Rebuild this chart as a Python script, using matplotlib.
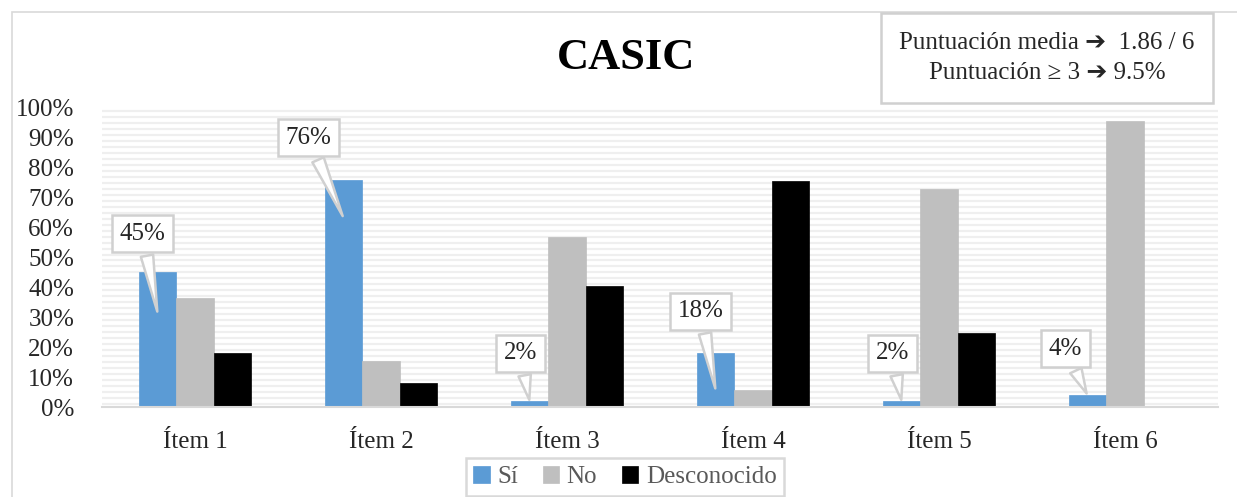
import numpy as np
import matplotlib
matplotlib.use("Agg")
from matplotlib import pyplot as plt
from matplotlib.patches import Rectangle
from matplotlib.ticker import PercentFormatter

plt.rcParams['font.family'] = ['Liberation Serif', 'DejaVu Sans']

# datos (porcentajes)
items = ["Ítem 1", "Ítem 2", "Ítem 3", "Ítem 4", "Ítem 5", "Ítem 6"]
si = [45, 76, 2, 18, 2, 4]
no = [36.5, 15.5, 57, 5.7, 73, 95.5]
desconocido = [18, 8, 40.5, 75.5, 24.7, 0.5]
series_names = ["Sí", "No", "Desconocido"]
series_colors = ["#5B9BD5", "#BFBFBF", "#000000"]
title = "CASIC"
info_lines = ["Puntuación media \u2794  1.86 / 6", "Puntuación \u2265 3 \u2794 9.5%"]

fig = plt.figure(figsize=(12.37, 4.97), dpi=100)
W, H = 1237, 497

# borde exterior del gráfico
fig.patches.append(Rectangle((12 / W, -0.1), 1.2, (497 - 12) / H + 0.1,
                             transform=fig.transFigure, fill=False,
                             edgecolor="#d9d9d9", linewidth=1.2))

ax = fig.add_axes([102 / W, 1 - 407 / H, (1218 - 102) / W, (407 - 108) / H])

x = np.arange(len(items))
w = 0.2
# fondo rayado
for yy in np.arange(1, 101, 2):
    ax.axhline(yy, color="#efefef", linewidth=1.6, zorder=0)

for k, (vals, c, name) in enumerate(zip([si, no, desconocido], series_colors, series_names)):
    ax.bar(x + (k - 1) * w, vals, width=w, color=c, label=name, zorder=2,
           edgecolor=c, linewidth=0.5)

ax.set_xlim(-0.5, len(items) - 0.5)
ax.set_ylim(0, 100)
ax.set_yticks(np.arange(0, 101, 10))
ax.yaxis.set_major_formatter(PercentFormatter(decimals=0))
ax.set_xticks(x)
ax.set_xticklabels(items)
ax.tick_params(axis="both", length=0, labelsize=18, colors="#262626")
ax.tick_params(axis="x", pad=17)
ax.tick_params(axis="y", pad=20)
for s in ["left", "right", "top"]:
    ax.spines[s].set_visible(False)
ax.spines["bottom"].set_color("#d9d9d9")
ax.spines["bottom"].set_linewidth(1.5)

# etiquetas tipo globo para "Sí"
offsets = [(-0.08, 58, 31), (-0.19, 90, 63), (-0.05, 18, 1.5),
           (-0.08, 32, 5.3), (-0.05, 18, 1.5), (-0.12, 19.5, 3.7)]
for i, v in enumerate(si):
    dx, ty, tip = offsets[i]
    bx = x[i] - w
    ax.annotate(f"{v}%", xy=(bx, min(tip, v)), xytext=(bx + dx, ty),
                ha="center", va="center", fontsize=18, color="#262626", zorder=5,
                bbox=dict(boxstyle="square,pad=0.3", fc="white", ec="#d0d0d0", lw=1.8),
                arrowprops=dict(arrowstyle="wedge,tail_width=0.5,shrink_factor=0.5",
                                fc="white", ec="#d0d0d0", lw=1.8))

fig.text(626 / W, 1 - 58 / H, title, ha="center", va="center",
         fontsize=32, fontweight="bold")

fig.text(1047 / W, 1 - 58 / H, "\n".join(info_lines), ha="center", va="center",
         fontsize=18, linespacing=1.5, color="#262626",
         bbox=dict(boxstyle="square,pad=0.75", fc="white", ec="#d0d0d0", lw=1.8))

leg = fig.legend(loc="center", bbox_to_anchor=(625 / W, 1 - 477 / H), ncol=3,
                 frameon=True, fontsize=18, handlelength=0.65, handleheight=0.65,
                 handletextpad=0.3, columnspacing=1.0, fancybox=False,
                 borderpad=0.3)
leg.get_frame().set_edgecolor("#d0d0d0")
leg.get_frame().set_linewidth(1.8)
for t in leg.get_texts():
    t.set_color("#595959")

fig.savefig("out.png", dpi=100)
